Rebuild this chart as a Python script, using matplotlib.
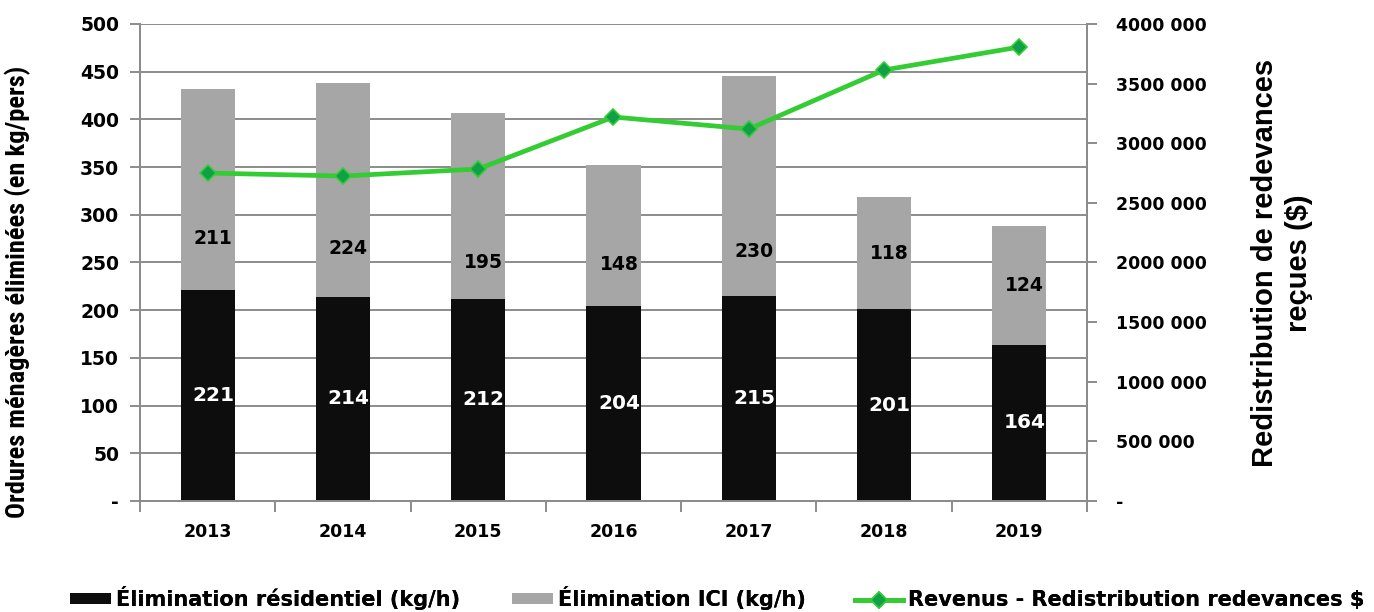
import matplotlib
matplotlib.use("Agg")
import matplotlib.pyplot as plt
from matplotlib.ticker import FuncFormatter, MultipleLocator, FixedLocator
from matplotlib.lines import Line2D
from matplotlib.patches import Patch
from matplotlib import font_manager

# --- data ---
years = ["2013", "2014", "2015", "2016", "2017", "2018", "2019"]
residentiel = [221, 214, 212, 204, 215, 201, 164]
ici = [211, 224, 195, 148, 230, 118, 124]
revenus = [2750000, 2725000, 2784000, 3220000, 3119000, 3614000, 3807000]

# vertical placement of the ICI value labels (left-axis units)
ici_label_y = [275, 265, 250, 248, 261, 259, 226]

available = sorted({f.name for f in font_manager.fontManager.ttflist})
condensed_candidates = ["Liberation Sans Narrow", "Roboto Condensed", "DejaVu Sans Condensed",
                        "Open Sans Condensed", "Noto Sans Condensed"]
narrow = next((n for n in condensed_candidates if n in available), "Liberation Sans")
bold_font = "DejaVu Sans"
regular = "Liberation Sans"

BLACK = "#0d0d0d"
GREY = "#a6a6a6"
GREEN = "#33cc33"
GRID = "#8c8c8c"

fig = plt.figure(figsize=(13.74, 6.12), dpi=100)
ax = fig.add_axes([0.1019, 0.1814, 0.6892, 0.7794])
ax2 = ax.twinx()

x = list(range(len(years)))
ax.bar(x, residentiel, width=0.4, color=BLACK, zorder=3)
ax.bar(x, ici, width=0.4, bottom=residentiel, color=GREY, zorder=3)

for xi, r, c, ly in zip(x, residentiel, ici, ici_label_y):
    ax.text(xi + 0.04, r / 2, f"{r}", color="white", ha="center", va="center",
            fontsize=14.5, fontweight="bold", family=bold_font, zorder=4)
    ax.text(xi + 0.04, ly, f"{c}", color="black", ha="center", va="center",
            fontsize=13.5, fontweight="bold", family=bold_font, zorder=4)

line_style = dict(color=GREEN, lw=3.4, marker="D", markersize=8.5,
                  markerfacecolor="#0fa048", markeredgecolor=GREEN, markeredgewidth=1.2)
ax2.plot(x, revenus, zorder=5, **line_style)

ax.set_xlim(-0.5, len(years) - 0.5)
ax.set_ylim(0, 500)
ax2.set_ylim(0, 4000000)

ax.yaxis.set_major_locator(MultipleLocator(50))
ax2.yaxis.set_major_locator(MultipleLocator(500000))
ax.yaxis.set_major_formatter(FuncFormatter(lambda v, p: "-" if v == 0 else f"{int(v)}"))


def money(v, p):
    v = int(round(v))
    if v == 0:
        return "-"
    return f"{v // 1000} {v % 1000:03d}"


ax2.yaxis.set_major_formatter(FuncFormatter(money))

ax.grid(axis="y", color=GRID, lw=1.4, zorder=0)
ax.set_axisbelow(True)

for a in (ax, ax2):
    for s in a.spines.values():
        s.set_color(GRID)
        s.set_linewidth(1.4)
    a.spines["top"].set_visible(False)

ax.set_xticks(x)
ax.set_xticklabels(years)
ax.xaxis.set_minor_locator(FixedLocator([i - 0.5 for i in range(len(years) + 1)]))
ax.tick_params(axis="x", which="major", length=0, pad=16)
ax.tick_params(axis="x", which="minor", length=8, width=1.4, color=GRID)
ax.tick_params(axis="y", length=7, width=1.4, color=GRID, pad=8)
ax2.tick_params(axis="y", length=7, width=1.4, color=GRID, pad=14)

for lab in ax.get_xticklabels():
    lab.set_fontsize(12.5)
    lab.set_fontweight("bold")
    lab.set_family(bold_font)
for lab in ax.get_yticklabels():
    lab.set_fontsize(13.5)
    lab.set_fontweight("bold")
    lab.set_family(bold_font)
for lab in ax2.get_yticklabels():
    lab.set_fontsize(12.5)
    lab.set_fontweight("bold")
    lab.set_family(bold_font)

fig.text(0.013, 0.523, "Ordures ménagères éliminées (en kg/pers)", rotation=90,
         ha="center", va="center", fontsize=19, fontweight="bold", family=narrow)
fig.text(0.933, 0.57, "Redistribution de redevances\nreçues ($)", rotation=90,
         ha="center", va="center", multialignment="center", fontsize=21,
         fontweight="bold", family=regular, linespacing=1.3)

# legend: one entry per block, laid out along the bottom edge
entries = [
    (Patch(facecolor=BLACK, label="Élimination résidentiel (kg/h)"), 70, 1.95, 0.023),
    (Patch(facecolor=GREY, label="Élimination ICI (kg/h)"), 512, 1.95, 0.023),
    (Line2D([], [], label="Revenus - Redistribution redevances $", **line_style), 855, 2.3, 0.019),
]
W = 1374
for handle, px, hl, py in entries:
    leg = fig.legend(handles=[handle], loc="center left", bbox_to_anchor=(px / W, py),
                     frameon=False, borderpad=0, borderaxespad=0,
                     prop={"family": bold_font, "weight": "bold", "size": 15},
                     handlelength=hl, handleheight=0.5, handletextpad=0.25)
    fig.add_artist(leg)

fig.savefig("out.png", dpi=100)
